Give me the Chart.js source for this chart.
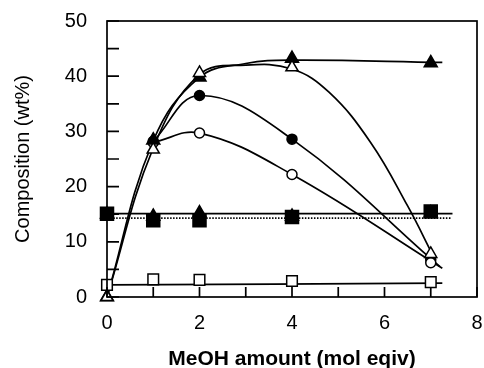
<!DOCTYPE html>
<html>
<head>
<meta charset="utf-8">
<script src="https://cdn.jsdelivr.net/npm/chart.js@4"></script>
<style>
  html, body { margin: 0; padding: 0; background: #fff; }
  #wrap { width: 484px; height: 368px; }
</style>
</head>
<body>
<div id="wrap"><canvas id="myChart"></canvas></div>
<script>
// measured points (MeOH mol equiv)
const doses = [0, 1, 2, 4, 7];
const filledTri = [0, 28.4, 39.8, 43.2, 42.4];
const openTri = [0, 26.7, 40.6, 41.6, 7.8];
const filledCirc = [null, 28.2, 36.5, 28.6, 6.8];
const openCirc = [null, 28, 29.7, 22.2, 6.2];
const filledTriLow = [15, 14.6, 15.2, 14.6, 15.2];
const filledSq = [15.1, 13.9, 13.9, 14.5, 15.5];
const openSq = [2.2, 3.2, 3.1, 2.9, 2.7];

// fitted curves
const fitFilledTriX = [0, 1, 2, 3, 4, 7.25];
const fitFilledTriY = [0, 28.3, 39.8, 42.3, 42.9, 42.5];
const fitOpenTriX = [0, 1, 2, 3, 4, 4.8, 5.7, 6.5, 7.05];
const fitOpenTriY = [0, 27, 40.3, 42.0, 41.3, 37.1, 28, 16.5, 7.5];
const fitFilledCircX = [1, 2, 4, 7.2];
const fitFilledCircY = [28.2, 36.5, 28.6, 5.5];
const fitOpenCircX = [1, 2, 4, 7.25];
const fitOpenCircY = [28, 29.7, 22.2, 5.2];
const fitSolidX = [0, 7.47];
const fitSolidY = [15.1, 15.1];
const fitDottedX = [0, 7.45];
const fitDottedY = [14.3, 14.3];
const fitOpenSqX = [0, 7.25];
const fitOpenSqY = [2.2, 2.5];

const pts = (xs, ys) => xs.map((x, i) => ({ x: x, y: ys[i] })).filter(p => p.y !== null);

const curve = (xs, ys, dash) => ({
    data: pts(xs, ys),
    showLine: true,
    pointRadius: 0,
    borderColor: '#000',
    borderWidth: 1.7,
    borderDash: dash || [],
    tension: 0.4,
    fill: false,
    order: 10
});

const marks = (ys, style, radius, filled) => ({
    data: pts(doses, ys),
    showLine: false,
    pointStyle: style,
    pointRadius: radius,
    pointBackgroundColor: filled ? '#000' : '#fff',
    pointBorderColor: '#000',
    pointBorderWidth: 1.5,
    clip: false,
    order: 1
});

const RIGHT_GAP = 7;

// box frame plus inward tick marks; also pins the right edge of the plot
const frameTicks = {
    id: 'frameTicks',
    afterLayout(chart) {
        const x = chart.scales.x;
        const want = chart.width - RIGHT_GAP;
        if (x.right !== want) {
            x.right = want;
            x.width = want - x.left;
            x.configure();
            chart.chartArea.right = want;
            chart.chartArea.width = want - chart.chartArea.left;
        }
    },
    afterDraw(chart) {
        const { ctx, scales } = chart;
        const x = scales.x;
        const y = scales.y;
        const l = x.left, r = x.right, t = y.top, b = y.bottom;
        ctx.save();
        ctx.strokeStyle = '#000';
        ctx.lineWidth = 1.7;
        ctx.beginPath();
        x.ticks.forEach(tk => {
            const px = x.getPixelForValue(tk.value);
            ctx.moveTo(px, b);
            ctx.lineTo(px, b - 10);
        });
        y.ticks.forEach(tk => {
            const py = y.getPixelForValue(tk.value);
            ctx.moveTo(l, py);
            ctx.lineTo(l + 12, py);
        });
        ctx.stroke();
        ctx.strokeRect(l, t, r - l, b - t);
        ctx.restore();
    }
};

const font = 'Liberation Sans, Arial, sans-serif';

const config = {
    type: 'scatter',
    data: {
        datasets: [
            marks(openTri, 'triangle', 7, false),
            marks(filledTri, 'triangle', 7.5, true),
            marks(openCirc, 'circle', 5, false),
            marks(filledCirc, 'circle', 5, true),
            marks(filledTriLow, 'triangle', 7.5, true),
            marks(filledSq, 'rect', 9.2, true),
            marks(openSq, 'rect', 7.5, false),
            curve(fitFilledTriX, fitFilledTriY),
            curve(fitOpenTriX, fitOpenTriY),
            curve(fitFilledCircX, fitFilledCircY),
            curve(fitOpenCircX, fitOpenCircY),
            curve(fitSolidX, fitSolidY),
            curve(fitDottedX, fitDottedY, [1.5, 1.5]),
            curve(fitOpenSqX, fitOpenSqY)
        ]
    },
    options: {
        responsive: true,
        maintainAspectRatio: false,
        animation: false,
        layout: { padding: { left: 0, right: RIGHT_GAP, top: 21, bottom: 0 } },
        plugins: { legend: { display: false }, tooltip: { enabled: false } },
        scales: {
            x: {
                type: 'linear',
                min: 0,
                max: 8,
                afterFit: s => { s.height = 71; s.paddingLeft = 0; s.paddingRight = 0; },
                grid: { display: false, drawTicks: false },
                border: { display: false },
                ticks: {
                    stepSize: 1,
                    autoSkip: false,
                    maxRotation: 0,
                    padding: 14,
                    color: '#000',
                    font: { family: font, size: 20 },
                    callback: v => (v % 2 === 0 ? v : '')
                },
                title: {
                    display: true,
                    text: 'MeOH amount (mol eqiv)',
                    color: '#000',
                    font: { family: font, size: 21, weight: 'bold', lineHeight: 0.8 },
                    padding: { top: 0, bottom: 0 }
                }
            },
            y: {
                type: 'linear',
                min: 0,
                max: 50,
                afterFit: s => { s.width = 107; s.paddingTop = 0; s.paddingBottom = 0; },
                grid: { display: false, drawTicks: false },
                border: { display: false },
                ticks: {
                    stepSize: 5,
                    autoSkip: false,
                    padding: 20,
                    color: '#000',
                    font: { family: font, size: 20 },
                    callback: v => (v % 10 === 0 ? v : '')
                },
                title: {
                    display: true,
                    text: 'Composition (wt%)',
                    color: '#000',
                    font: { family: font, size: 20, lineHeight: 1 },
                    padding: { top: 13, bottom: 0 }
                }
            }
        }
    },
    plugins: [frameTicks]
};

// eslint-disable-next-line
const chart = new Chart(document.querySelector('#myChart'), config);
</script>
</body>
</html>
